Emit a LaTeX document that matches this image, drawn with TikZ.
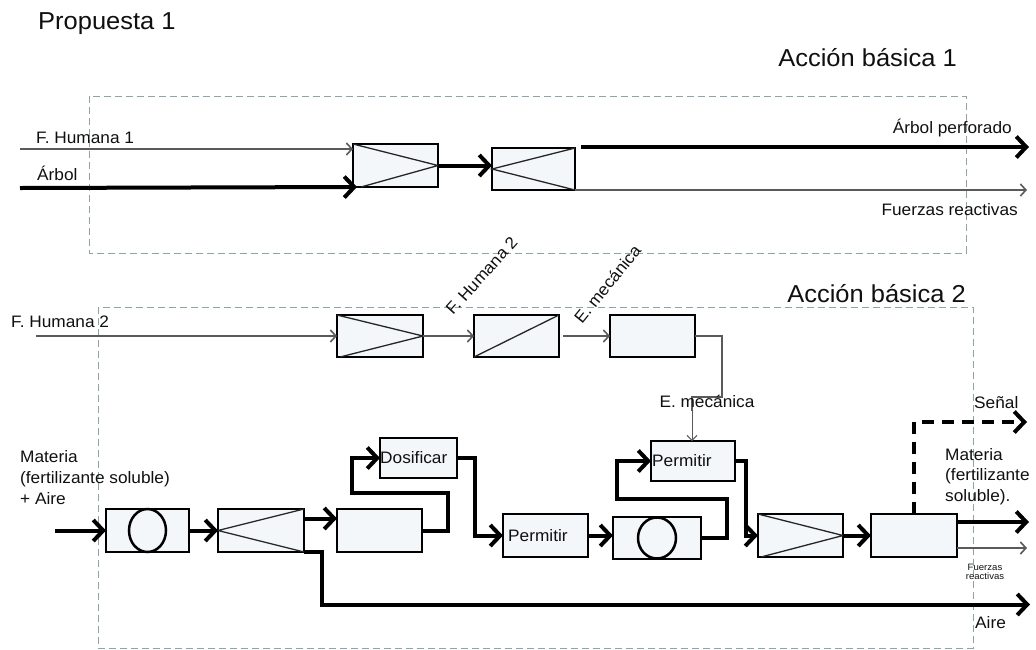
\documentclass[tikz,border=0pt]{standalone}
\usepackage{fontspec}
\setmainfont[FakeStretch=1.04]{Liberation Sans}
\usetikzlibrary{arrows.meta}
\definecolor{boxfill}{HTML}{F3F7F9}
\definecolor{framec}{HTML}{8FA4A8}
\definecolor{thinc}{HTML}{5A5A5A}
\definecolor{txt}{HTML}{101010}
\begin{document}
\begin{tikzpicture}[x=1pt,y=-1pt,
 box/.style={draw=black, line width=2.8pt, fill=boxfill, inner sep=0pt, outer sep=0pt},
 lbl/.style={inner sep=0pt, text=txt, font=\fontsize{16.6}{19}\selectfont},
 small/.style={inner sep=0pt, text=txt, align=center, font=\fontsize{9.2}{16}\selectfont},
 ttl/.style={inner sep=0pt, text=txt, font=\fontsize{24.5}{28}\selectfont},
 thickarr/.style={draw=black, line width=4pt, -{Straight Barb[length=10pt,width=21pt]}},
 thinarr/.style={draw=thinc, line width=1.6pt, -{Straight Barb[length=5.5pt,width=12pt]}},
 crossl/.style={line width=1.3pt, draw=black!85},
 frm/.style={draw=framec, line width=1pt, dash pattern=on 7pt off 4pt},
 oval/.style={line width=2.5pt, draw=black},
]
\useasboundingbox (0,0) rectangle (1036,649);

% frames
\draw[frm] (89,96) rectangle (966,253);
\draw[frm] (98,307) rectangle (973,648);

% titles
\node[ttl, anchor=base west] (t0) at (38,29) {Propuesta 1};
\node[ttl, anchor=base east] (t1) at (957,66) {Acción básica 1};
\node[ttl, anchor=base east] (t2) at (966,302) {Acción básica 2};

% ---------- Acción básica 1 ----------
\node[box, minimum width=85pt, minimum height=43pt] (A1) at (395.5,165.5) {};
\node[box, minimum width=83pt, minimum height=42pt] (A2) at (533.5,169) {};
\draw[crossl] (A1.north west) -- (A1.east) -- ([xshift=8]A1.south west);
\draw[crossl] (A2.north east) -- (A2.west) -- (A2.south east);

\coordinate (fh1) at (20,149);
\coordinate (arb) at (20,188);
\coordinate (apEnd) at (1029,147);
\coordinate (frEnd) at (1027,190);

\draw[thinarr] (fh1) -- ([yshift=-5]A1.north west);
\draw[thickarr] (arb) -- ([xshift=4]A1.south west);
\draw[thickarr] (A1.east) -- (A1.east -| A2.west);
\draw[thickarr] ([xshift=6,yshift=1]A2.north east) -- (apEnd);
\draw[thinarr] (A2.south east) -- (frEnd);

\node[lbl, anchor=base west] (l1) at (36,143) {F. Humana 1};
\node[lbl, anchor=base west] (l2) at (37,180) {Árbol};
\node[lbl, anchor=base east] (l3) at (1012,133) {Árbol perforado};
\node[lbl, anchor=base east] (l4) at (1018,215) {Fuerzas reactivas};

% ---------- Acción básica 2: upper chain ----------
\node[box, minimum width=86pt, minimum height=42pt] (B1) at (380,336) {};
\node[box, minimum width=85pt, minimum height=42pt] (B2) at (516.5,336) {};
\node[box, minimum width=85pt, minimum height=42pt] (B3) at (652.5,336) {};
\draw[crossl] (B1.north west) -- (B1.east) -- ([xshift=3]B1.south west);
\draw[crossl] (B2.south west) -- (B2.north east);

\coordinate (fh2) at (36,336);
\draw[thinarr] (fh2) -- (B1.west);
\draw[thinarr] (B1.east) -- (B2.west);
\draw[thinarr] ([xshift=4]B2.east) -- (B3.west);

\node[lbl, anchor=base west] (l5) at (11,327) {F. Humana 2};
\node[lbl, anchor=base west, rotate=48] (l6) at (453,316) {F. Humana 2};
\node[lbl, anchor=base west, rotate=51] (l7) at (582,325) {E. mecánica};

% ---------- Acción básica 2: lower chain ----------
\node[box, minimum width=83pt, minimum height=43pt] (C1) at (147.5,530.5) {};
\node[box, minimum width=86pt, minimum height=43pt] (C2) at (261,530.5) {};
\node[box, minimum width=85pt, minimum height=43pt] (C3) at (379.5,530.5) {};
\node[box, minimum width=77pt, minimum height=40pt] (Dos) at (418.5,458) {};
\node[box, minimum width=85pt, minimum height=43pt] (P1) at (545.5,535.5) {};
\node[box, minimum width=88pt, minimum height=42pt] (C4) at (657,538) {};
\node[box, minimum width=84pt, minimum height=40pt] (P2) at (693,461) {};
\node[box, minimum width=85pt, minimum height=43pt] (C5) at (800.5,535.5) {};
\node[box, minimum width=86pt, minimum height=43pt] (C6) at (914,535.5) {};

\draw[oval] (C1.center) ellipse [x radius=18.5, y radius=21.5];
\draw[oval] (C4.center) ellipse [x radius=19, y radius=20.5];
\draw[crossl] (C2.north east) -- (C2.west) -- (C2.south east);
\draw[crossl] (C5.north west) -- (C5.east) -- ([xshift=3]C5.south west);

\node[lbl, anchor=west] (tDos) at ([xshift=0]Dos.west) {Dosificar};
\node[lbl, anchor=west] (tP1) at ([xshift=5]P1.west) {Permitir};
\node[lbl, anchor=west] (tP2) at ([xshift=1]P2.west) {Permitir};

\coordinate (inM) at (55,530.5);
\coordinate (aireEnd) at (1030,604.5);
\coordinate (matEnd) at (1029,522);
\coordinate (fr2End) at (1027,548);
\coordinate (senEnd) at (1027,422);

\draw[thickarr] (inM) -- (C1.west);
\draw[thickarr] (C1.east) -- (C2.west);
\draw[thickarr] ([yshift=12]C2.east) -- ([yshift=12]C2.east -| C3.west);
\draw[thickarr] (C3.east) -| ++(26,-37.5) -| ([xshift=-28]Dos.west) -- (Dos.west);
\draw[thickarr] (Dos.east) -| ([xshift=-28]P1.west) -- (P1.west);
\draw[thickarr] (P1.east) -- (P1.east -| C4.west);
\draw[thickarr] (C4.east) -| ++(26,-39) -| ([xshift=-34]P2.west) -- (P2.west);
\draw[thickarr] (P2.east) -| ([xshift=-12]C5.west) -- (C5.west);
\draw[thickarr] (C5.east) -- (C5.east -| C6.west);
\draw[thickarr] ([yshift=13.5]C6.east) -- (matEnd);
\draw[thinarr] ([yshift=-12.5]C6.east) -- (fr2End);
\draw[thickarr, dash pattern=on 12pt off 8pt] (C6.north) |- (senEnd);
\draw[thickarr] (C2.south east) -| (aireEnd -| 322,0) -- (aireEnd);
\draw[draw=thinc, line width=1.6pt] (B3.east) -| ++(27,61) -| ([xshift=-1,yshift=30]P2.north);
\draw[draw=thinc, line width=1pt, -{Straight Barb[length=5pt,width=10pt]}] ([xshift=-1,yshift=31]P2.north) -- ([xshift=-1]P2.north);

\node[lbl, anchor=base] (l8) at (707,407) {E. mecánica};
\node[lbl, anchor=base west] (l9) at (974,408) {Señal};
\node[lbl, anchor=north west, align=left, font=\fontsize{16.6}{21}\selectfont] (l10) at (20,450) {Materia\\(fertilizante soluble)\\+ Aire};
\node[lbl, anchor=north west, align=left, font=\fontsize{16.6}{20.5}\selectfont] (l11) at (945,448) {Materia\\(fertilizante\\soluble).};
\node[small] (l12) at (985,572) {Fuerzas\\[-7pt]reactivas};
\node[lbl, anchor=base west] (l13) at (975,628) {Aire};
\end{tikzpicture}
\end{document}
